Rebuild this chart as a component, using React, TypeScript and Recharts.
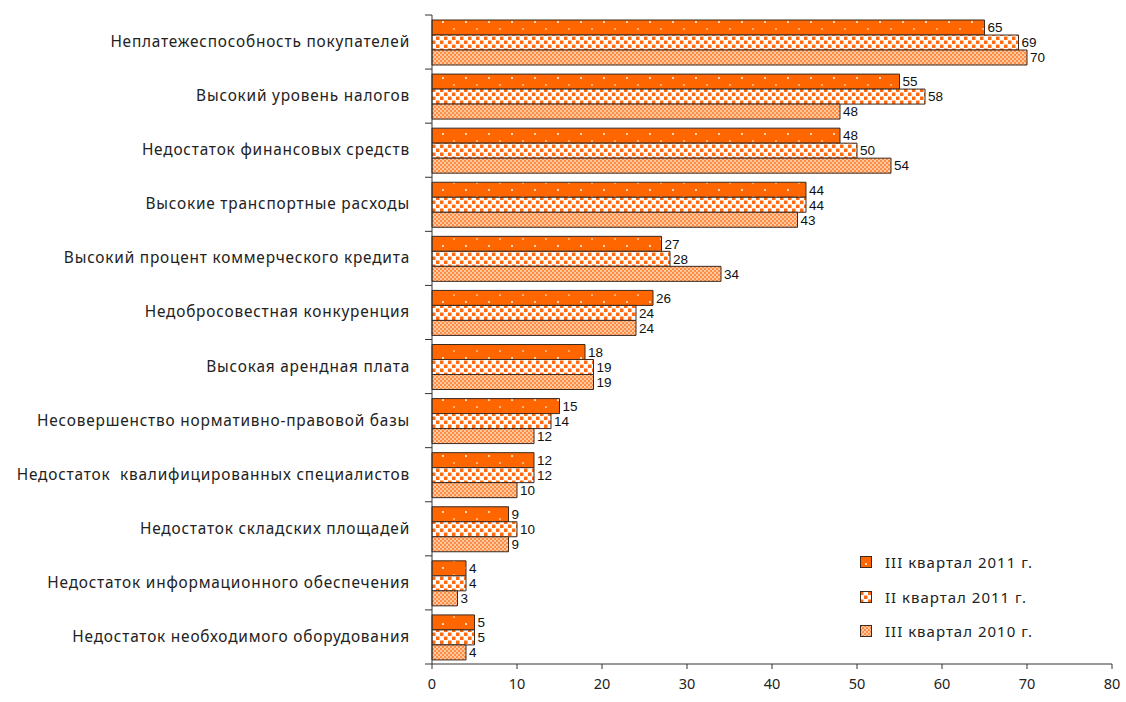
import React from 'react';
import { BarChart, Bar, XAxis, YAxis, LabelList } from 'recharts';

const categories = [
  'Неплатежеспособность покупателей',
  'Высокий уровень налогов',
  'Недостаток финансовых средств',
  'Высокие транспортные расходы',
  'Высокий процент коммерческого кредита',
  'Недобросовестная конкуренция',
  'Высокая арендная плата',
  'Несовершенство нормативно-правовой базы',
  'Недостаток  квалифицированных специалистов',
  'Недостаток складских площадей',
  'Недостаток информационного обеспечения',
  'Недостаток необходимого оборудования',
];

const q3_2011 = [65, 55, 48, 44, 27, 26, 18, 15, 12, 9, 4, 5];
const q2_2011 = [69, 58, 50, 44, 28, 24, 19, 14, 12, 10, 4, 5];
const q3_2010 = [70, 48, 54, 43, 34, 24, 19, 12, 10, 9, 3, 4];

const seriesNames = ['III квартал 2011 г.', 'II квартал 2011 г.', 'III квартал 2010 г.'];
const xTicks = [0, 10, 20, 30, 40, 50, 60, 70, 80];

const data = categories.map((name, i) => ({
  name,
  a: q3_2011[i],
  b: q2_2011[i],
  c: q3_2010[i],
}));

const W = 1126;
const H = 702;
const M = { top: 15, right: 14, bottom: 0, left: 0 };
const X_AXIS_H = H - 664 - M.bottom;
const BAND = (H - M.top - M.bottom - X_AXIS_H) / categories.length;

const fills = ['url(#pDots)', 'url(#pSquares)', 'url(#pCheck)'];
const stroke = '#3a2a20';
const font = '"Noto Sans", sans-serif';

function CategoryTick(props: any) {
  const { x, y, payload, index } = props;
  return (
    <g>
      <line x1={x - 7} x2={x} y1={y - BAND / 2} y2={y - BAND / 2} stroke="#333" />
      {index === categories.length - 1 && (
        <line x1={x - 7} x2={x} y1={y + BAND / 2} y2={y + BAND / 2} stroke="#333" />
      )}
      <text
        x={x - 22}
        y={y}
        dy={5}
        textAnchor="end"
        fill="#222"
        style={{ fontFamily: font, fontSize: 15.4, letterSpacing: 0.8, whiteSpace: 'pre' }}
      >
        {payload.value}
      </text>
    </g>
  );
}

function LegendBox() {
  return (
    <div style={{ position: 'absolute', left: 860, top: 545, fontFamily: font, fontSize: 15, color: '#222', letterSpacing: 1 }}>
      {seriesNames.map((n, i) => (
        <div key={n} style={{ display: 'flex', alignItems: 'center', height: 34.5 }}>
          <svg width={12} height={12} style={{ marginRight: 13 }}>
            <rect x={0.5} y={0.5} width={11} height={11} fill={fills[i]} stroke={stroke} />
          </svg>
          <span>{n}</span>
        </div>
      ))}
    </div>
  );
}

export default function App() {
  const labelStyle = { fontFamily: '"Liberation Sans Narrow", "Liberation Sans", Arial, sans-serif', fontSize: 13.5, fill: '#111' };
  return (
    <div style={{ position: 'absolute', left: 0, top: 0, width: W, height: H, background: '#fff' }}>
      <svg width={0} height={0} style={{ position: 'absolute' }}>
        <defs>
          <pattern id="pDots" width={23} height={14} patternUnits="userSpaceOnUse">
            <rect width={23} height={14} fill="#ff6600" />
            <rect x={5} y={7} width={2} height={2} fill="#ffd9bf" />
            <rect x={16} y={0} width={2} height={2} fill="#ffb080" />
          </pattern>
          <pattern id="pSquares" width={8} height={8} patternUnits="userSpaceOnUse">
            <rect width={8} height={8} fill="#ffffff" />
            <rect x={0} y={0.5} width={3.5} height={3.5} fill="#ff6a10" />
            <rect x={4} y={4.5} width={3.5} height={3.5} fill="#ff6a10" />
          </pattern>
          <pattern id="pCheck" width={4} height={4} patternUnits="userSpaceOnUse">
            <rect width={4} height={4} fill="#ffc9a0" />
            <rect x={0} y={0} width={2} height={2} fill="#ff8c45" />
            <rect x={2} y={2} width={2} height={2} fill="#ff8c45" />
          </pattern>
        </defs>
      </svg>
      <BarChart
        width={W}
        height={H}
        data={data}
        layout="vertical"
        margin={M}
        barGap={0}
        barSize={15}
      >
        <XAxis
          type="number"
          domain={[0, 80]}
          ticks={xTicks}
          height={X_AXIS_H}
          stroke="#333"
          tickSize={5}
          tickMargin={10}
          tick={{ fill: '#222', fontFamily: font, fontSize: 14.5 }}
        />
        <YAxis
          type="category"
          dataKey="name"
          width={432}
          stroke="#333"
          tickLine={false}
          tickSize={0}
          tickMargin={0}
          interval={0}
          tick={<CategoryTick />}
        />
        {(['a', 'b', 'c'] as const).map((k, i) => (
          <Bar key={k} dataKey={k} name={seriesNames[i]} fill={fills[i]} stroke={stroke} strokeWidth={1} isAnimationActive={false}>
            <LabelList dataKey={k} position="right" offset={3} style={labelStyle} />
          </Bar>
        ))}
      </BarChart>
      <LegendBox />
    </div>
  );
}
